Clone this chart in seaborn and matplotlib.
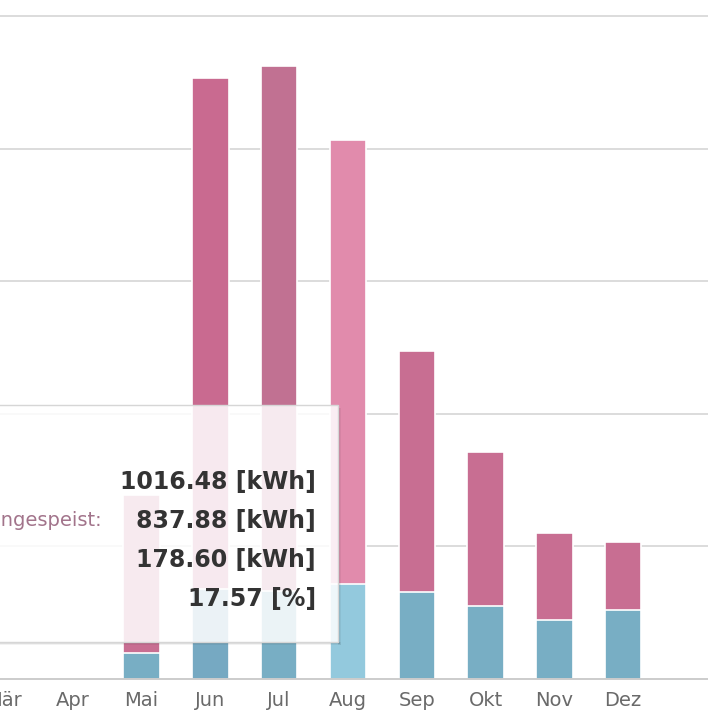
import numpy as np
import pandas as pd
import seaborn as sns
import matplotlib.pyplot as plt
from matplotlib.patches import Rectangle

# Monthly PV yield split into self-consumption and grid feed-in (kWh)
monate = ["Jan", "Feb", "Mär", "Apr", "Mai", "Jun", "Jul", "Aug", "Sep", "Okt", "Nov", "Dez"]
eigenverbrauch = [0, 0, 0, 0, 49, 170, 165, 178.60, 164, 138, 111, 130]
eingespeist = [0, 0, 0, 0, 298, 963, 991, 837.88, 454, 290, 164, 128]

# bar colours per month (August is the hovered month)
farben_einspeisung = ["#c86e92"] * 12
farben_einspeisung[5] = "#c96a90"
farben_einspeisung[6] = "#c17192"
farben_einspeisung[7] = "#e18bac"
farben_eigen = ["#78aec4"] * 12
farben_eigen[5] = "#76a9c2"
farben_eigen[7] = "#93c9dd"

df = pd.DataFrame({"Monat": monate,
                   "Eigenverbrauch": eigenverbrauch,
                   "Eingespeist": eingespeist})
df["Gesamt"] = df["Eigenverbrauch"] + df["Eingespeist"]

sns.set_style("white")
W, H = 708, 713
fig = plt.figure(figsize=(W / 100, H / 100), dpi=100)
ax = fig.add_axes([0, 34 / H, 1, 679 / H])

common = dict(data=df, x="Monat", hue="Monat", order=monate, hue_order=monate,
              width=0.53, edgecolor="white", linewidth=1.2, saturation=1,
              legend=False, ax=ax)
sns.barplot(y="Gesamt", palette=farben_einspeisung, **common)
sns.barplot(y="Eigenverbrauch", palette=farben_eigen, **common)

# axes: categorical x with an extra tick after December, y grid every 250 kWh
ax.set_yticks([250, 500, 750, 1000, 1250])
ax.yaxis.grid(True, color="#d9d9d9", linewidth=1.3)
ax.set_axisbelow(True)
ax.tick_params(axis="y", left=False, labelleft=False)
ax.set_xticks(range(13))
ax.set_xticklabels(monate + [""])
ax.tick_params(axis="x", length=5, width=1, color="#c8c8c8",
               labelcolor="#6a6a6a", labelsize=14, pad=3.5)
ax.set_xlim(1.942, 12.233)
ax.set_ylim(0, 1280.2)
ax.set_xlabel("")
ax.set_ylabel("")
for s in ["left", "right", "top"]:
    ax.spines[s].set_visible(False)
ax.spines["bottom"].set_color("#c4c4c4")
ax.spines["bottom"].set_linewidth(1.2)

# hover tooltip for August
def fx(x):
    return x / W

def fy(y):
    return 1 - y / H

top, bottom, right, left = 405, 642, 338, -10
# soft shadow along the right and bottom edges
for off, a in [(1, 0.12), (2, 0.08), (3, 0.05)]:
    fig.add_artist(Rectangle((fx(right), fy(bottom + off)), off / W, (bottom + off - top - 3) / H,
                             transform=fig.transFigure, facecolor="black", alpha=a,
                             edgecolor="none", zorder=5))
    fig.add_artist(Rectangle((fx(left), fy(bottom + off)), fx(right + off - left), off / H,
                             transform=fig.transFigure, facecolor="black", alpha=a,
                             edgecolor="none", zorder=5))
fig.add_artist(Rectangle((fx(left), fy(bottom)), fx(right - left), (bottom - top) / H,
                         transform=fig.transFigure, facecolor=(1, 1, 1, 0.86),
                         edgecolor="#d6d6d6", linewidth=1, zorder=6))

i = monate.index("Aug")
gesamt = df["Gesamt"][i]
zeilen = [f"{gesamt:.2f} [kWh]",
          f"{eingespeist[i]:.2f} [kWh]",
          f"{eigenverbrauch[i]:.2f} [kWh]",
          f"{eigenverbrauch[i] / gesamt * 100:.2f} [%]"]
for y, txt in zip([482, 521, 560, 599], zeilen):
    fig.text(fx(316), fy(y), txt, ha="right", va="center", fontsize=17,
             fontweight="bold", color="#333333", zorder=7)
fig.text(fx(102), fy(521), "Eingespeist:", ha="right", va="center",
         fontsize=14, color="#a2748b", zorder=7)

fig.savefig("out.png", dpi=100)
